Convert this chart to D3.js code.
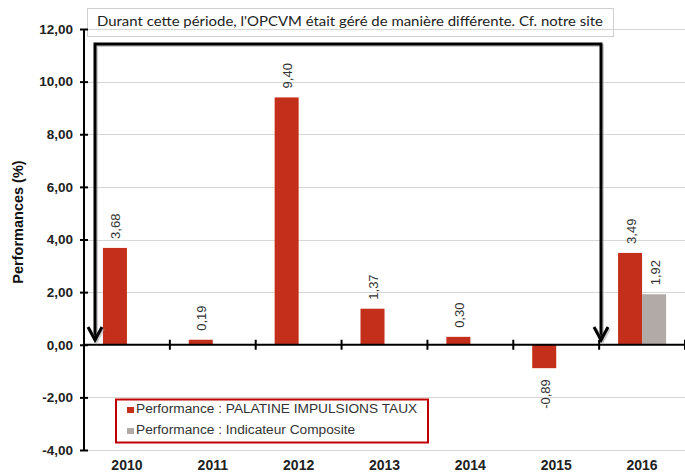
<!DOCTYPE html>
<html>
<head>
<meta charset="utf-8">
<script src="https://cdn.jsdelivr.net/npm/d3@7"></script>
<style>
  html, body { margin: 0; padding: 0; background: #fff; }
  svg { display: block; font-family: Arial, "Liberation Sans", sans-serif; }
</style>
</head>
<body>
<script>

// Data.
var years = ['2010', '2011', '2012', '2013', '2014', '2015', '2016'];
var fundPerf = [3.68, 0.19, 9.40, 1.37, 0.30, -0.89, 3.49];
var indexPerf = [null, null, null, null, null, null, 1.92];
var seriesNames = ['Performance : PALATINE IMPULSIONS TAUX', 'Performance : Indicateur Composite'];
var seriesColors = ['#c42f1b', '#b2aaa7'];
var yTicks = [-4, -2, 0, 2, 4, 6, 8, 10, 12];
var noteText = "Durant cette période, l'OPCVM était géré de manière différente. Cf. notre site";

(function() {

  var width = 685, height = 472;
  var plotL = 84, plotR = 685, plotT = 29, plotB = 450;

  var svg = d3.select('body').append('svg')
    .attr('width', width)
    .attr('height', height);

  // Scales.
  var y = d3.scaleLinear().domain([-4, 12]).range([plotB, plotT]);
  var x = d3.scaleBand().domain(years).range([plotL, plotR]);
  var groupW = 48;
  var x1 = d3.scaleBand().domain([0, 1]).range([0, groupW]);

  // French style numbers, plain hyphen for minus.
  var locale = d3.formatLocale({ decimal: ',', thousands: ' ', grouping: [3], currency: ['', ' €'], minus: '-' });
  var fmt = locale.format('.2f');

  // Gridlines.
  svg.append('g').selectAll('line')
    .data(yTicks.filter(function(t) { return t !== 0; }))
    .join('line')
    .attr('x1', plotL).attr('x2', plotR)
    .attr('y1', function(d) { return Math.round(y(d)) + 0.5; })
    .attr('y2', function(d) { return Math.round(y(d)) + 0.5; })
    .attr('stroke', '#d6d6d6')
    .attr('stroke-width', 1);

  // Note box.
  svg.append('rect')
    .attr('x', 87.5).attr('y', 8.5)
    .attr('width', 526).attr('height', 28)
    .attr('fill', 'none')
    .attr('stroke', '#cfcfcf');

  svg.append('text')
    .attr('x', 97).attr('y', 26)
    .attr('font-family', 'Lato, "Open Sans", sans-serif')
    .attr('font-size', 14)
    .attr('fill', '#222')
    .attr('textLength', 506)
    .attr('lengthAdjust', 'spacingAndGlyphs')
    .text(noteText);

  // Bars.
  var rows = [];
  years.forEach(function(yr, i) {
    [fundPerf[i], indexPerf[i]].forEach(function(v, s) {
      if (v !== null) rows.push({ year: yr, s: s, v: v });
    });
  });

  var barX = function(d) {
    return x(d.year) + (x.bandwidth() - groupW) / 2 + x1(d.s);
  };

  svg.append('g').selectAll('rect')
    .data(rows)
    .join('rect')
    .attr('x', barX)
    .attr('width', x1.bandwidth())
    .attr('y', function(d) { return y(Math.max(0, d.v)); })
    .attr('height', function(d) { return Math.abs(y(d.v) - y(0)); })
    .attr('fill', function(d) { return seriesColors[d.s]; });

  // Value labels.
  svg.append('g').selectAll('text')
    .data(rows)
    .join('text')
    .attr('transform', function(d) {
      var cx = barX(d) + x1.bandwidth() / 2 + 1;
      var ty = d.v >= 0 ? y(d.v) - 9 : y(d.v) + 11;
      return 'translate(' + cx + ',' + ty + ') rotate(-90)';
    })
    .attr('text-anchor', function(d) { return d.v >= 0 ? 'start' : 'end'; })
    .attr('dy', '0.35em')
    .attr('font-size', 13)
    .attr('fill', '#333')
    .text(function(d) { return fmt(d.v); });

  // Y axis.
  var yAxis = svg.append('g')
    .attr('transform', 'translate(' + plotL + ',0)')
    .call(d3.axisLeft(y).tickValues(yTicks).tickFormat(fmt).tickSize(4).tickPadding(7));
  yAxis.select('.domain').remove();
  yAxis.selectAll('.tick line')
    .attr('x1', 4).attr('x2', -4)
    .attr('stroke', '#000').attr('stroke-width', 2);
  yAxis.selectAll('.tick text')
    .attr('font-size', 13.5)
    .attr('font-weight', 'bold')
    .attr('fill', '#222')
    .attr('font-family', 'Arial, "Liberation Sans", sans-serif');
  yAxis.append('line')
    .attr('x1', 0).attr('x2', 0)
    .attr('y1', plotT).attr('y2', plotB)
    .attr('stroke', '#000').attr('stroke-width', 2);

  // X axis at zero.
  var bounds = years.map(function(yr) { return x(yr) + x.bandwidth(); });
  var xAxis = svg.append('g');
  xAxis.append('line')
    .attr('x1', plotL).attr('x2', plotR)
    .attr('y1', y(0)).attr('y2', y(0))
    .attr('stroke', '#000').attr('stroke-width', 2);
  xAxis.selectAll('line.tk')
    .data(bounds)
    .join('line')
    .attr('class', 'tk')
    .attr('x1', function(d) { return d; }).attr('x2', function(d) { return d; })
    .attr('y1', y(0) - 5).attr('y2', y(0) + 5)
    .attr('stroke', '#000').attr('stroke-width', 2);

  svg.append('g').selectAll('text')
    .data(years)
    .join('text')
    .attr('x', function(d) { return x(d) + x.bandwidth() / 2; })
    .attr('y', 470)
    .attr('text-anchor', 'middle')
    .attr('font-size', 14)
    .attr('font-weight', 'bold')
    .attr('fill', '#222')
    .text(function(d) { return d; });

  // Axis title.
  svg.append('text')
    .attr('transform', 'translate(23,222) rotate(-90)')
    .attr('text-anchor', 'middle')
    .attr('font-size', 14.5)
    .attr('font-weight', 'bold')
    .attr('fill', '#111')
    .text('Performances (%)');

  // Bracket arrow.
  var ax0 = 95, ax1 = 601, ay = 44, aTip = 340;
  var bracket = 'M' + ax0 + ',' + aTip + 'V' + ay + 'H' + ax1 + 'V' + aTip;
  var heads = 'M' + (ax0 - 7) + ',' + (aTip - 13) + 'L' + ax0 + ',' + aTip + 'L' + (ax0 + 7) + ',' + (aTip - 13) +
    'M' + (ax1 - 7) + ',' + (aTip - 13) + 'L' + ax1 + ',' + aTip + 'L' + (ax1 + 7) + ',' + (aTip - 13);

  [bracket, heads].forEach(function(p) {
    svg.append('path')
      .attr('d', p)
      .attr('transform', 'translate(1.5,1.5)')
      .attr('fill', 'none')
      .attr('stroke', '#999')
      .attr('stroke-opacity', 0.5)
      .attr('stroke-width', 3);
    svg.append('path')
      .attr('d', p)
      .attr('fill', 'none')
      .attr('stroke', '#000')
      .attr('stroke-width', 3);
  });

  // Legend.
  var legend = svg.append('g');
  legend.append('rect')
    .attr('x', 116).attr('y', 399.5)
    .attr('width', 312).attr('height', 43)
    .attr('fill', '#fff')
    .attr('stroke', '#c00000')
    .attr('stroke-width', 2);

  var items = legend.selectAll('g')
    .data(seriesNames)
    .join('g')
    .attr('transform', function(d, i) { return 'translate(127,' + (413 + i * 21) + ')'; });
  items.append('rect')
    .attr('x', 0).attr('y', -6)
    .attr('width', 7).attr('height', 6)
    .attr('fill', function(d, i) { return seriesColors[i]; });
  items.append('text')
    .attr('x', 9).attr('y', 0)
    .attr('font-size', 13.7)
    .attr('fill', '#333')
    .text(function(d) { return d; });

})();

</script>
</body>
</html>
